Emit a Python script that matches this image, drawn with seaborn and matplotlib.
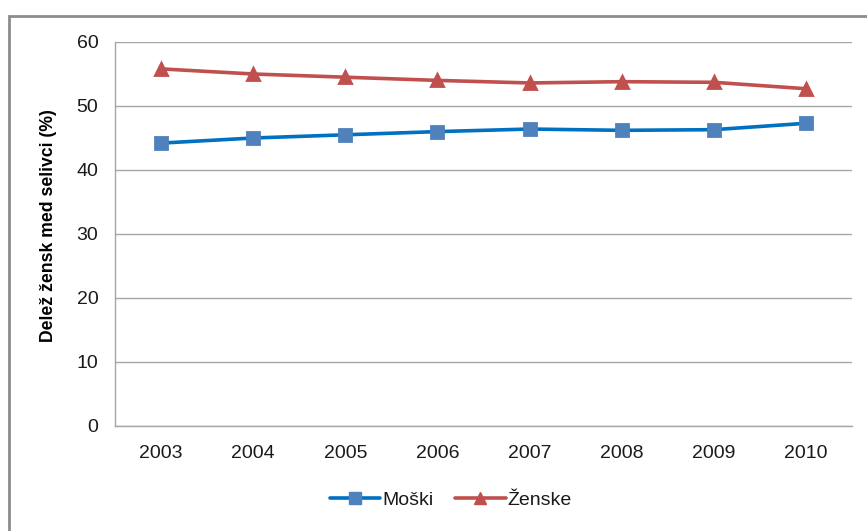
import pandas as pd
import seaborn as sns
import matplotlib.pyplot as plt
from matplotlib.patches import Rectangle

years = ['2003', '2004', '2005', '2006', '2007', '2008', '2009', '2010']
moski = [44.2, 45.0, 45.5, 46.0, 46.4, 46.2, 46.3, 47.3]
zenske = [55.8, 55.0, 54.5, 54.0, 53.6, 53.8, 53.7, 52.7]
series = ['Moški', 'Ženske']
y_ticks = [0, 10, 20, 30, 40, 50, 60]

df = pd.concat([
    pd.DataFrame({'leto': years, 'delez': moski, 'spol': series[0]}),
    pd.DataFrame({'leto': years, 'delez': zenske, 'spol': series[1]}),
])

sns.set_style('white')
plt.rcParams['font.family'] = ['Liberation Sans', 'DejaVu Sans']
plt.rcParams['text.color'] = '#1A1A1A'

fig = plt.figure(figsize=(8.67, 5.31), dpi=100)
ax = fig.add_axes([115 / 867, 105 / 531, 737 / 867, 384 / 531])

sns.pointplot(data=df, x='leto', y='delez', hue='spol', order=years,
              hue_order=series, palette=['#4F81BD', '#C0504D'],
              markers=['s', '^'], linestyles=['-', '-'], errorbar=None,
              ax=ax, legend=False)

# excel style: darker line for the blue series, marker fill stays lighter
line_cols = ['#0070C0', '#C0504D']
mark_cols = ['#4F81BD', '#C0504D']
for ln, lc, mc in zip(ax.lines[:2], line_cols, mark_cols):
    ln.set_color(lc)
    ln.set_linewidth(2.6)
    ln.set_markerfacecolor(mc)
    ln.set_markeredgecolor(mc)
    ln.set_markersize(9)

ax.set_xlim(-0.5, len(years) - 0.5)
ax.set_ylim(0, 60)
ax.set_yticks(y_ticks)
ax.set_xlabel('')
ax.set_ylabel('Delež žensk med selivci (%)', fontsize=12.7, fontweight='bold',
              color='black')
ax.yaxis.set_label_coords(-0.079, 0.521)
ax.yaxis.grid(True, color='#A6A6A6', linewidth=1)
ax.set_axisbelow(True)
for s in ['top', 'right']:
    ax.spines[s].set_visible(False)
for s in ['left', 'bottom']:
    ax.spines[s].set_color('#A6A6A6')
    ax.spines[s].set_linewidth(1)

# x ticks sit between categories
ax.set_xticks(range(len(years)))
ax.set_xticklabels(years)
ax.set_xticks([i - 0.5 for i in range(len(years) + 1)], minor=True)
ax.tick_params(axis='x', which='major', length=0, pad=14, labelsize=14,
               labelcolor='#1A1A1A')
ax.tick_params(axis='x', which='minor', length=6, color='#A6A6A6', width=1)
ax.tick_params(axis='y', length=6, color='#A6A6A6', width=1, pad=6,
               labelsize=14, labelcolor='#1A1A1A')

handles = [plt.Line2D([], [], color=lc, lw=2.6, marker=m, markersize=9,
                      markerfacecolor=mc, markeredgecolor=mc)
           for lc, mc, m in zip(line_cols, mark_cols, ['s', '^'])]
fig.legend(handles, series, loc='center', bbox_to_anchor=(0.52, 0.058),
           ncol=2, frameon=False, fontsize=14, handlelength=2.6,
           columnspacing=1.1, handletextpad=0.1)

fig.patches.append(Rectangle((9 / 867, -0.1), 2, 1 - 16 / 531 + 0.1,
                             transform=fig.transFigure, fill=False,
                             edgecolor='#8C8C8C', linewidth=2))

fig.savefig('out.png', dpi=100)
